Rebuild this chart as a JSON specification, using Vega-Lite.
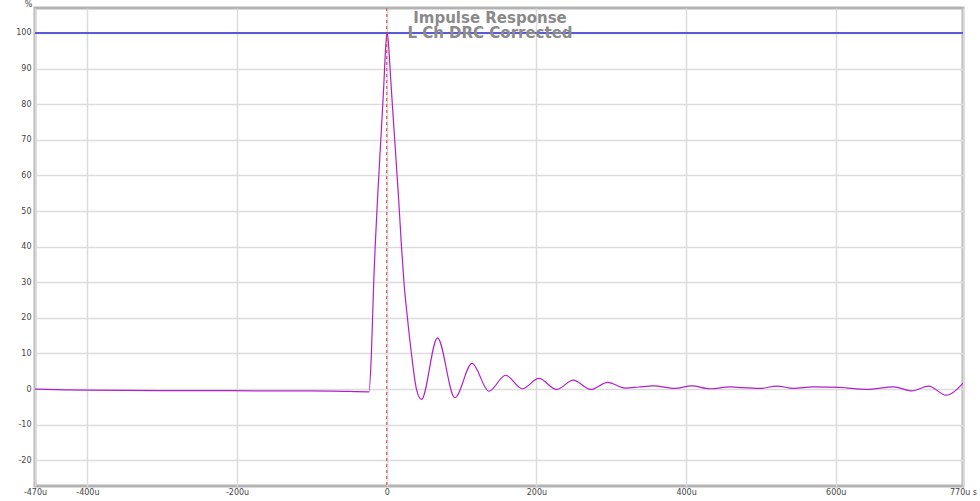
{
  "$schema": "https://vega.github.io/schema/vega-lite/v6.json",
  "width": 928,
  "height": 478,
  "autosize": "none",
  "padding": {"left": 35, "top": 8, "right": 17, "bottom": 15},
  "background": "white",
  "config": {
    "view": {"stroke": "#b3b3b3", "strokeWidth": 3},
    "font": "DejaVu Sans",
    "axis": {
      "labelFontSize": 8,
      "labelColor": "#444444",
      "ticks": false,
      "domain": false,
      "labelBound": false,
      "labelOverlap": false,
      "labelFlush": false,
      "gridColor": "#dcdcdc",
      "gridWidth": 1.5
    },
    "axisX": {"labelPadding": 2},
    "axisY": {"labelPadding": 4}
  },
  "title": {
    "text": ["Impulse Response", "L Ch DRC Corrected"],
    "anchor": "middle",
    "frame": "group",
    "fontSize": 15,
    "fontWeight": "bold",
    "color": "#8a8a8a",
    "lineHeight": 15,
    "baseline": "alphabetic",
    "offset": -36,
    "dx": -9,
    "dy": 17
  },
  "datasets": {
    "ir": [
      {"t": -470, "v": 0},
      {"t": -440, "v": -0.15},
      {"t": -400, "v": -0.3},
      {"t": -300, "v": -0.4},
      {"t": -206, "v": -0.45},
      {"t": -140, "v": -0.5},
      {"t": -72, "v": -0.55},
      {"t": -23.7, "v": -0.75},
      {"t": -20.5, "v": 10},
      {"t": -17.4, "v": 30},
      {"t": -12.4, "v": 53},
      {"t": -7.4, "v": 72},
      {"t": -4, "v": 85},
      {"t": -1.7, "v": 95},
      {"t": 0.5, "v": 100.2},
      {"t": 3, "v": 95},
      {"t": 5, "v": 88},
      {"t": 10, "v": 72},
      {"t": 16, "v": 53},
      {"t": 19.7, "v": 40},
      {"t": 23.1, "v": 29.7},
      {"t": 27.7, "v": 19.9},
      {"t": 33, "v": 10},
      {"t": 39.7, "v": 0},
      {"t": 46.4, "v": -2.9},
      {"t": 67.8, "v": 14.4},
      {"t": 91, "v": -2.4},
      {"t": 114, "v": 7.2},
      {"t": 136.5, "v": -0.6},
      {"t": 158.8, "v": 3.9},
      {"t": 181, "v": 0.1},
      {"t": 203.3, "v": 3.0},
      {"t": 227, "v": -0.1},
      {"t": 249.2, "v": 2.5},
      {"t": 272.5, "v": -0.1},
      {"t": 295.3, "v": 1.9},
      {"t": 318.4, "v": 0.3},
      {"t": 337, "v": 0.6},
      {"t": 355.9, "v": 0.9},
      {"t": 385.3, "v": 0.2},
      {"t": 407.6, "v": 0.9},
      {"t": 432, "v": 0.1},
      {"t": 458.9, "v": 0.65},
      {"t": 475, "v": 0.4},
      {"t": 499, "v": 0.2},
      {"t": 521.3, "v": 0.85},
      {"t": 543.5, "v": 0.2},
      {"t": 569.9, "v": 0.65},
      {"t": 605.4, "v": 0.5},
      {"t": 641.7, "v": -0.1},
      {"t": 677.3, "v": 0.65},
      {"t": 701.9, "v": -0.5},
      {"t": 724.1, "v": 0.85},
      {"t": 747.4, "v": -1.7},
      {"t": 770, "v": 1.7}
    ]
  },
  "layer": [
    {
      "data": {"name": "ir"},
      "mark": {"type": "line", "interpolate": "monotone", "color": "#b020c8", "strokeWidth": 1.2, "clip": true},
      "encoding": {
        "x": {
          "field": "t", "type": "quantitative",
          "scale": {"domain": [-470, 770], "nice": false, "zero": false},
          "axis": {
            "values": [-470, -400, -200, 0, 200, 400, 600, 770],
            "labelExpr": "datum.value == 0 ? '0' : datum.value == 770 ? '770u s' : datum.value + 'u'",
            "title": null
          }
        },
        "y": {
          "field": "v", "type": "quantitative",
          "scale": {"domain": [-27.2, 107], "nice": false, "zero": false},
          "axis": {
            "values": [-20, -10, 0, 10, 20, 30, 40, 50, 60, 70, 80, 90, 100],
            "labelExpr": "'' + datum.value",
            "title": "%",
            "titleAngle": 0,
            "titleX": -7,
            "titleY": -2,
            "titleAlign": "center",
            "titleBaseline": "alphabetic",
            "titleFontSize": 8,
            "titleFontWeight": "normal",
            "titleColor": "#444444"
          }
        }
      }
    },
    {
      "data": {"values": [{}]},
      "mark": {"type": "rule", "color": "#5a5ad8", "strokeWidth": 2},
      "encoding": {
        "y": {
          "datum": 100, "type": "quantitative",
          "axis": {
            "values": [-20, -10, 0, 10, 20, 30, 40, 50, 60, 70, 80, 90, 100],
            "labelExpr": "'' + datum.value",
            "title": "%",
            "titleAngle": 0,
            "titleX": -7,
            "titleY": -2,
            "titleAlign": "center",
            "titleBaseline": "alphabetic",
            "titleFontSize": 8,
            "titleFontWeight": "normal",
            "titleColor": "#444444"
          }
        }
      }
    },
    {
      "data": {"values": [{}]},
      "mark": {"type": "rule", "color": "#e03c3c", "strokeDash": [3, 3], "strokeWidth": 1},
      "encoding": {
        "x": {
          "datum": 0, "type": "quantitative",
          "axis": {
            "values": [-470, -400, -200, 0, 200, 400, 600, 770],
            "labelExpr": "datum.value == 0 ? '0' : datum.value == 770 ? '770u s' : datum.value + 'u'",
            "title": null
          }
        }
      }
    }
  ]
}
